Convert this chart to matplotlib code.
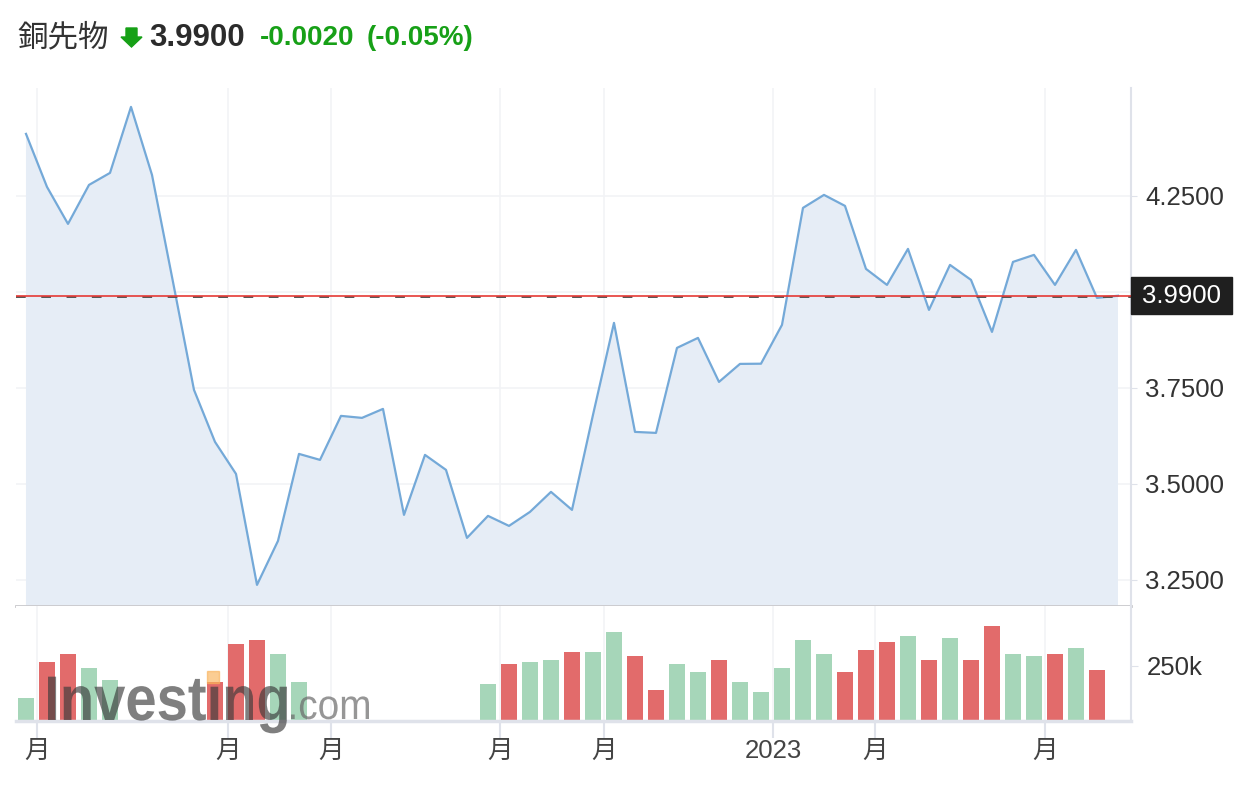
import matplotlib
matplotlib.use('Agg')
import matplotlib.pyplot as plt
from matplotlib.patches import Polygon, Rectangle, PathPatch
from matplotlib.textpath import TextPath
from matplotlib.font_manager import FontProperties
from matplotlib.transforms import Affine2D
import numpy as np

# weekly copper futures closes
prices = [4.4115, 4.2734, 4.1771, 4.2786, 4.3099, 4.4818, 4.3047, 4.0260, 3.7448, 3.6094,
          3.5260, 3.2370, 3.3516, 3.5781, 3.5625, 3.6771, 3.6719, 3.6953, 3.4193, 3.5755,
          3.5365, 3.3594, 3.4167, 3.3906, 3.4271, 3.4792, 3.4323, 3.6797, 3.9193, 3.6354,
          3.6328, 3.8542, 3.8802, 3.7656, 3.8125, 3.8130, 3.9141, 4.2188, 4.2526, 4.2240,
          4.0599, 4.0182, 4.1120, 3.9531, 4.0703, 4.0313, 3.8958, 4.0781, 4.0964, 4.0182,
          4.1094, 3.9844, 3.9900]

# volume, NaN where no bar is drawn
nan = float('nan')
volumes = [104e3, 268e3, 305e3, 241e3, 186e3, nan, nan, nan, nan, 177e3,
           350e3, 368e3, 305e3, 177e3, nan, nan, nan, nan, nan, nan,
           nan, nan, 168e3, 259e3, 268e3, 277e3, 314e3, 314e3, 405e3, 295e3,
           141e3, 259e3, 223e3, 277e3, 177e3, 132e3, 241e3, 368e3, 305e3, 223e3,
           323e3, 359e3, 386e3, 277e3, 377e3, 277e3, 432e3, 305e3, 295e3, 305e3,
           332e3, 232e3, nan]

last_price = 3.99
price_ticks = [3.25, 3.50, 3.75, 4.00, 4.25]
price_tick_labels = ['3.2500', '3.5000', '3.7500', '', '4.2500']
date_tick_pos = [0.52, 9.62, 14.52, 22.57, 27.52, 35.57, 40.43, 48.52]
date_tick_labels = ['月', '月', '月', '月', '月', '2023', '月', '月']

line_color = '#74a9d8'
fill_color = '#e6edf6'
red = '#e26b6b'
green = '#a6d6b9'
grid_color = '#f2f3f6'
axis_color = '#dfe2ea'
fonts = ['Liberation Sans', 'Noto Sans CJK JP', 'DejaVu Sans']
plt.rcParams['font.family'] = fonts

W, H = 1244, 790
fig = plt.figure(figsize=(W / 100, H / 100), dpi=100)

def box(x0, y0, x1, y1):
    # pixel box (top-left origin) -> figure fraction
    return [x0 / W, 1 - y1 / H, (x1 - x0) / W, (y1 - y0) / H]

ax = fig.add_axes(box(16, 88, 1131, 606))
vax = fig.add_axes(box(16, 606, 1131, 721), sharex=ax)

x = np.arange(len(prices))
xlim = (-0.476, 52.62)

# ---- price panel
ax.fill_between(x, prices, 0, color=fill_color, lw=0, zorder=1)
ax.plot(x, prices, color=line_color, lw=1.6, zorder=3)
ax.axhline(last_price - 0.004, color='#555555', lw=1.4, ls=(0, (5, 8)), zorder=4)
ax.axhline(last_price, color='#e53935', lw=1.2, zorder=4)
ax.set_xlim(*xlim)
ax.set_ylim(3.182, 4.531)
ax.set_yticks(price_ticks)
ax.set_yticklabels(price_tick_labels)
ax.set_xticks(date_tick_pos)
ax.yaxis.tick_right()
ax.tick_params(axis='y', length=4, color=axis_color, labelsize=18.5, labelcolor='#333333', pad=6)
ax.tick_params(axis='x', length=0, labelbottom=False)
ax.grid(True, color=grid_color, lw=1.2, zorder=0)
for s in ['top', 'left']:
    ax.spines[s].set_visible(False)
ax.spines['right'].set_color(axis_color)
ax.spines['right'].set_linewidth(1.5)
ax.spines['bottom'].set_color('#c9c9cc')
ax.spines['bottom'].set_linewidth(2)
ax.set_axisbelow(True)

# last price label box
ytr = ax.get_yaxis_transform()
box_h = 37 / 384
ax.add_patch(Rectangle((1.0, last_price - box_h / 2), 101 / 1115, box_h, transform=ytr,
                       color='#1f1f1f', clip_on=False, zorder=6))
ax.text(1.0 + 50.5 / 1115, last_price, '3.9900', transform=ytr, ha='center', va='center',
        fontsize=18.5, color='white', clip_on=False, zorder=7)

# ---- volume panel
vols = np.array(volumes)
diff = np.diff(prices, prepend=prices[0] - 0.01)
bar_colors = [green if d >= 0 else red for d in diff]
vax.bar(x, vols, width=0.76, color=bar_colors, zorder=2)
vax.set_ylim(0, 522700)
vax.set_yticks([250000])
vax.set_yticklabels(['250k'])
vax.yaxis.tick_right()
vax.tick_params(axis='y', length=5, color=axis_color, labelsize=18.5, labelcolor='#333333', pad=6)
vax.set_xticks(date_tick_pos)
vax.set_xticklabels(date_tick_labels)
vax.tick_params(axis='x', length=12, width=1.5, color=axis_color, labelsize=18.5, labelcolor='#444444', pad=1)
vax.grid(True, axis='x', color=grid_color, lw=1.2, zorder=0)
vax.set_axisbelow(True)
for s in ['top', 'left']:
    vax.spines[s].set_visible(False)
vax.spines['right'].set_color(axis_color)
vax.spines['right'].set_linewidth(1.5)
vax.spines['bottom'].set_color(axis_color)
vax.spines['bottom'].set_linewidth(2.5)

# watermark, drawn as a squeezed text path (pixel coordinates, origin bottom-left)
def logo_text(s, size, weight, x0, x1, base_y, color, alpha):
    tp = TextPath((0, 0), s, size=size, prop=FontProperties(family='Liberation Sans', weight=weight))
    ext = tp.get_extents()
    sx = (x1 - x0) / ext.width
    tr = Affine2D().translate(-ext.x0, 0).scale(sx, 1).translate(x0, H - base_y)
    p = PathPatch(tr.transform_path(tp), transform=None, fc=color, ec='none', alpha=alpha, zorder=10)
    fig.add_artist(p)

# dotless i in "ting": its dot is the orange mark
logo_text('Investıng', 63, 'bold', 48, 287, 720, '#3a3a3a', 0.65)
logo_text('.com', 42, 'normal', 291, 369, 719, '#6a6a6a', 0.7)
fig.patches.append(Rectangle((207 / W, 1 - 683 / H), 12 / W, 12 / H, transform=fig.transFigure,
                             color='#f9b25a', alpha=0.65, zorder=11))

# header
fig.text(17 / W, 1 - 38 / H, '銅先物', fontsize=22, color='#333333', va='center', ha='left',
         family=['Noto Sans CJK JP', 'DejaVu Sans'])
arrow = [(126, 28), (137, 28), (137, 37), (142, 37), (131.5, 47), (121, 37), (126, 37)]
fig.patches.append(Polygon([(px / W, 1 - py / H) for px, py in arrow], closed=True,
                           transform=fig.transFigure, color='#16a016'))
fig.text(149 / W, 1 - 38 / H, '3.9900', fontsize=22.5, fontweight='bold', color='#2b2b2b',
         va='center', ha='left')
fig.text(260 / W, 1 - 38 / H, '-0.0020', fontsize=20, fontweight='bold', color='#17a017',
         va='center', ha='left')
fig.text(367 / W, 1 - 38 / H, '(-0.05%)', fontsize=20, fontweight='bold', color='#17a017',
         va='center', ha='left')

fig.savefig('out.png', dpi=100, facecolor='white')
